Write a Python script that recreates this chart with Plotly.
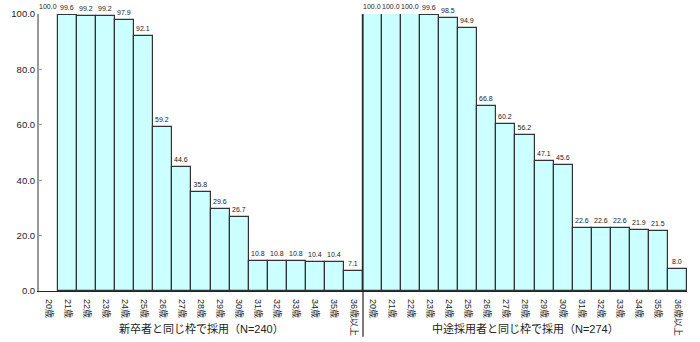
import plotly.graph_objects as go

ages = ["20歳", "21歳", "22歳", "23歳", "24歳", "25歳", "26歳", "27歳", "28歳",
        "29歳", "30歳", "31歳", "32歳", "33歳", "34歳", "35歳", "36歳以上"]
shinsotsu = [100.0, 99.6, 99.2, 99.2, 97.9, 92.1, 59.2, 44.6, 35.8, 29.6, 26.7,
             10.8, 10.8, 10.8, 10.4, 10.4, 7.1]
chuto = [100.0, 100.0, 100.0, 99.6, 98.5, 94.9, 66.8, 60.2, 56.2, 47.1, 45.6,
         22.6, 22.6, 22.6, 21.9, 21.5, 8.0]
group_titles = ["新卒者と同じ枠で採用（N=240）", "中途採用者と同じ枠で採用（N=274）"]

values = shinsotsu + chuto
labels = ages + ages
n = len(ages)
xs = list(range(len(values)))

fill = ["#CCFFFF"] * len(values)
line = ["#333333"] * len(values)
# the first group's 20歳 bar is not drawn in the original (only its label)
fill[0] = "rgba(0,0,0,0)"
line[0] = "rgba(0,0,0,0)"

FONT = "Liberation Sans, Arial, Noto Sans CJK JP, sans-serif"

fig = go.Figure()
fig.add_trace(go.Bar(
    x=xs, y=values,
    width=1,
    marker=dict(color=fill, line=dict(color=line, width=1.2)),
    text=[f"{v:.1f}" for v in values],
    textposition="outside",
    textfont=dict(size=7, color="#222"),
    cliponaxis=False,
    hoverinfo="skip",
))

fig.add_shape(type="line", xref="x", yref="paper",
              x0=n - 0.5, x1=n - 0.5, y0=-0.165, y1=1.0,
              line=dict(color="#222", width=1.2))

for i, t in enumerate(group_titles):
    fig.add_annotation(x=i * n + (n - 1) / 2, y=-0.137, xref="x", yref="paper",
                       text=t, showarrow=False, yanchor="middle",
                       font=dict(size=11, color="#222", family=FONT))

fig.update_layout(
    width=700, height=342,
    margin=dict(l=39, r=13, t=14, b=51, autoexpand=False),
    paper_bgcolor="white", plot_bgcolor="white",
    showlegend=False, bargap=0,
    font=dict(family=FONT, color="#222"),
)
fig.update_xaxes(
    range=[-0.5, len(values) - 0.5],
    tickmode="array", tickvals=xs, ticktext=labels,
    tickangle=90, tickfont=dict(size=9, color="#222"),
    ticklabelstandoff=5, automargin=False,
    showline=True, linecolor="#222", linewidth=1.2,
    ticks="", showgrid=False, zeroline=False,
)
fig.update_yaxes(
    range=[0, 100], tickvals=[0, 20, 40, 60, 80, 100], tickformat=".1f",
    tickfont=dict(size=9.5), automargin=False,
    showline=True, linecolor="#999", linewidth=2,
    ticks="inside", ticklen=3, tickcolor="#999",
    showgrid=False, zeroline=False,
)

fig.write_html("out.html")
